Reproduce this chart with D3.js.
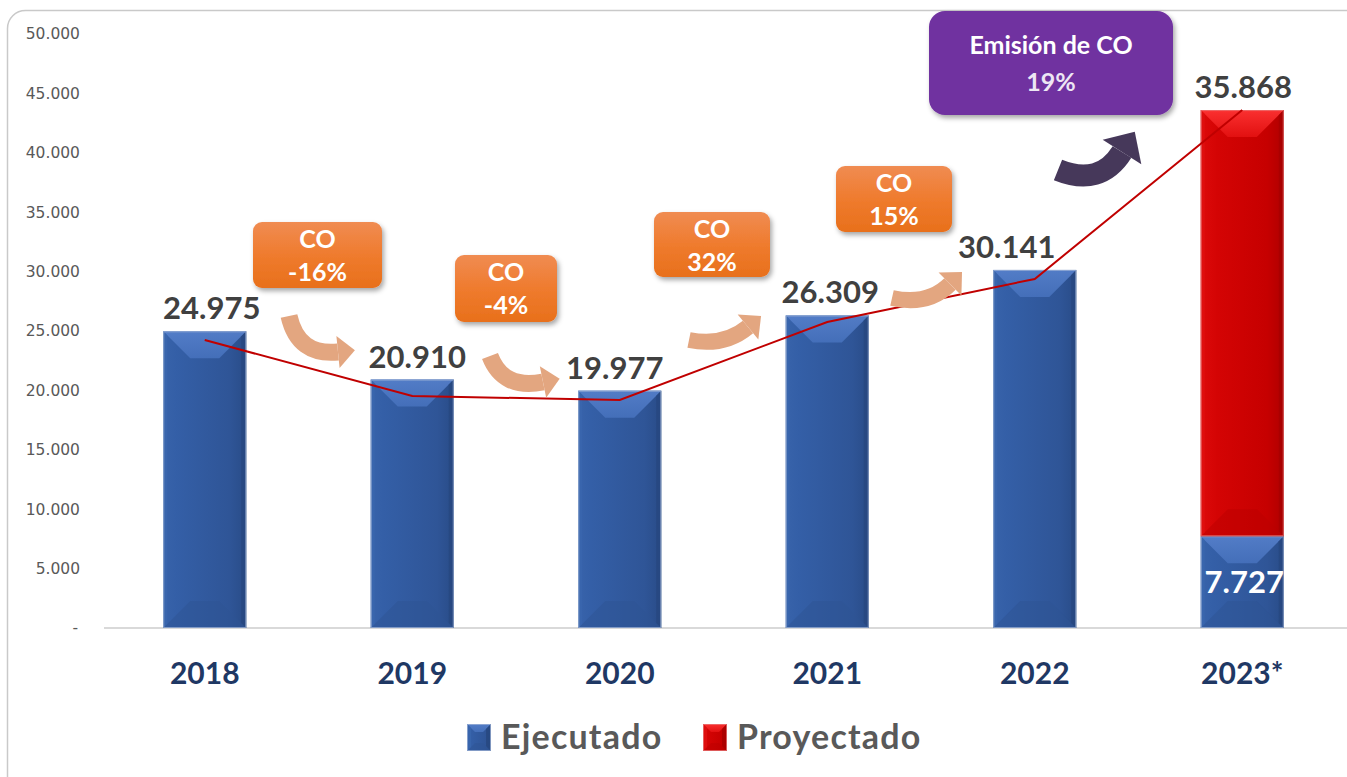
<!DOCTYPE html>
<html>
<head>
<meta charset="utf-8">
<script src="https://cdn.jsdelivr.net/npm/d3@7"></script>
<style>
  html, body { margin: 0; padding: 0; background: #fff; }
  svg { display: block; }
</style>
</head>
<body>
<div id="chart"></div>
<script>
// chart data
const years = ['2018', '2019', '2020', '2021', '2022', '2023*'];
const ejecutado = [24975, 20910, 19977, 26309, 30141, 7727];
const proyectado = [0, 0, 0, 0, 0, 35868];
const tendencia = [24240, 19530, 19190, 25760, 29380, 43600];
const yTicks = [0, 5000, 10000, 15000, 20000, 25000, 30000, 35000, 40000, 45000, 50000];
const seriesNames = ['Ejecutado', 'Proyectado'];
const callouts = [
  { title: 'CO', value: '-16%' },
  { title: 'CO', value: '-4%' },
  { title: 'CO', value: '32%' },
  { title: 'CO', value: '15%' }
];
const totalCallout = { title: 'Emisión de CO', value: '19%' };

const width = 1347;
const height = 777;
const margin = { top: 34, right: 1, bottom: 149, left: 101 };

const svg = d3.select('#chart').append('svg')
  .attr('width', width)
  .attr('height', height);

const defs = svg.append('defs');

function hGrad(id, stops) {
  const g = defs.append('linearGradient').attr('id', id)
    .attr('x1', 0).attr('x2', 1).attr('y1', 0).attr('y2', 0);
  stops.forEach(s => g.append('stop').attr('offset', s[0]).attr('stop-color', s[1]));
}
function vGrad(id, stops) {
  const g = defs.append('linearGradient').attr('id', id)
    .attr('x1', 0).attr('x2', 0).attr('y1', 0).attr('y2', 1);
  stops.forEach(s => g.append('stop').attr('offset', s[0]).attr('stop-color', s[1]));
}
hGrad('blueBody', [[0, '#3863AA'], [0.15, '#345FA7'], [0.8, '#2F5597'], [1, '#294C88']]);
hGrad('redBody', [[0, '#DD0A0A'], [0.2, '#D40404'], [0.8, '#C60000'], [1, '#B00000']]);
vGrad('orangeBox', [[0, '#F08C52'], [0.5, '#EF7B2E'], [1, '#E8701B']]);
vGrad('blueTop', [[0, '#5680CB'], [1, '#4671BC']]);
vGrad('redTop', [[0, '#FF3535'], [1, '#E41212']]);

const shadow = defs.append('filter').attr('id', 'shadow')
  .attr('x', '-10%').attr('y', '-10%').attr('width', '130%').attr('height', '140%');
shadow.append('feDropShadow').attr('dx', 2).attr('dy', 3).attr('stdDeviation', 2.5)
  .attr('flood-color', '#000').attr('flood-opacity', 0.35);

// frame
svg.append('rect')
  .attr('x', 7.5).attr('y', 10.5)
  .attr('width', 1400).attr('height', 820)
  .attr('rx', 18)
  .attr('fill', '#fff')
  .attr('stroke', '#c9c9c9')
  .attr('stroke-width', 1.5);

const x = d3.scaleBand()
  .domain(years)
  .range([margin.left, width - margin.right])
  .paddingInner(0.6)
  .paddingOuter(0.3);

const y = d3.scaleLinear()
  .domain([0, 50000])
  .range([height - margin.bottom, margin.top]);

// y axis labels
const yAxis = d3.axisLeft(y)
  .tickValues(yTicks)
  .tickSize(0)
  .tickPadding(0)
  .tickFormat(d => d === 0 ? '-' : d3.format(',')(d).replace(/,/g, '.'));

svg.append('g')
  .attr('transform', `translate(${margin.left - 21},0)`)
  .call(yAxis)
  .call(g => g.select('.domain').remove())
  .call(g => g.selectAll('text')
    .attr('font-family', '"DejaVu Sans", Verdana, sans-serif')
    .attr('font-size', 15.5)
    .attr('fill', '#595959')
    .attr('dx', d => d === 0 ? -2 : 0));

// baseline
svg.append('line')
  .attr('x1', margin.left + 3).attr('x2', width)
  .attr('y1', y(0)).attr('y2', y(0))
  .attr('stroke', '#d9d9d9')
  .attr('stroke-width', 2);

// stacked bars
const table = years.map((yr, i) => ({ year: yr, Ejecutado: ejecutado[i], Proyectado: proyectado[i] }));
const stacked = d3.stack().keys(seriesNames)(table);

const palette = {
  Ejecutado: { body: 'url(#blueBody)', top: 'url(#blueTop)', bottom: '#2D5394', left: '#3A66AE', right: '#27477F', edge: '#A5B8D9' },
  Proyectado: { body: 'url(#redBody)', top: 'url(#redTop)', bottom: '#BC0000', left: '#E01010', right: '#A80000', edge: '#E88080' }
};

function bevelBar(g, x0, y0, w, h, c) {
  const b = Math.min(27, w / 3, h / 2.2);
  const x1 = x0 + w, y1 = y0 + h;
  g.append('rect').attr('x', x0).attr('y', y0).attr('width', w).attr('height', h)
    .attr('fill', c.body);
  g.append('polygon')
    .attr('points', [[x0, y0], [x1, y0], [x1 - b, y0 + b], [x0 + b, y0 + b]].join(' '))
    .attr('fill', c.top).attr('opacity', 0.9);
  g.append('polygon')
    .attr('points', [[x0, y1], [x1, y1], [x1 - b, y1 - b], [x0 + b, y1 - b]].join(' '))
    .attr('fill', c.bottom).attr('opacity', 0.5);
  g.append('polygon')
    .attr('points', [[x0, y0], [x0 + 4, y0 + 4], [x0 + 4, y1 - 4], [x0, y1]].join(' '))
    .attr('fill', c.left).attr('opacity', 0.8);
  g.append('polygon')
    .attr('points', [[x1, y0], [x1 - 5, y0 + 5], [x1 - 5, y1 - 5], [x1, y1]].join(' '))
    .attr('fill', c.right).attr('opacity', 0.8);
  g.append('rect').attr('x', x0 + 0.5).attr('y', y0 + 0.5).attr('width', w - 1).attr('height', h - 1)
    .attr('fill', 'none').attr('stroke', c.edge).attr('stroke-width', 1).attr('opacity', 0.7);
}

stacked.forEach(layer => {
  const gl = svg.append('g').attr('class', 'series-' + layer.key);
  layer.forEach(d => {
    const h = y(d[0]) - y(d[1]);
    if (h <= 0) return;
    bevelBar(gl.append('g'), x(d.data.year), y(d[1]), x.bandwidth(), h, palette[layer.key]);
  });
});

// trend line
const line = d3.line()
  .x((d, i) => x(years[i]) + x.bandwidth() / 2)
  .y(d => y(d));

svg.append('path')
  .datum(tendencia)
  .attr('d', line)
  .attr('fill', 'none')
  .attr('stroke', '#C00000')
  .attr('stroke-width', 2);

// curved arrows
function curvedArrow(p0, c, p1, thick, head, color) {
  const g = svg.append('g');
  g.append('path')
    .attr('d', `M${p0[0]},${p0[1]} Q${c[0]},${c[1]} ${p1[0]},${p1[1]}`)
    .attr('fill', 'none')
    .attr('stroke', color)
    .attr('stroke-width', thick);
  const ang = Math.atan2(p1[1] - c[1], p1[0] - c[0]);
  const ux = Math.cos(ang), uy = Math.sin(ang);
  const nx = -uy, ny = ux;
  const tip = [p1[0] + ux * head, p1[1] + uy * head];
  const a = [p1[0] + nx * head * 0.95, p1[1] + ny * head * 0.95];
  const b = [p1[0] - nx * head * 0.95, p1[1] - ny * head * 0.95];
  g.append('polygon').attr('points', [tip, a, b].join(' ')).attr('fill', color);
}
const tan = '#E3A680';
curvedArrow([289, 316], [298, 356], [338, 352], 17, 17, tan);
curvedArrow([490, 356], [503, 390], [543, 382], 17, 17, tan);
curvedArrow([689, 340], [724, 347], [748, 327], 16, 17, tan);
curvedArrow([892, 298], [928, 306], [950, 284], 16, 17, tan);
curvedArrow([1058, 170], [1100, 187], [1122, 152], 22, 24, '#46385A');

// value labels
const labelFont = 'Lato, "Open Sans", sans-serif';
const labelDx = [7, 5, -5, 3, -28, 1];
const totals = years.map((yr, i) => ejecutado[i] + proyectado[i]);
const fmt = v => d3.format(',')(v).replace(/,/g, '.');

svg.append('g').selectAll('text')
  .data(years)
  .join('text')
  .attr('x', (d, i) => x(d) + x.bandwidth() / 2 + labelDx[i])
  .attr('y', (d, i) => y(totals[i]) - 12)
  .attr('text-anchor', 'middle')
  .attr('font-family', labelFont)
  .attr('font-weight', 700)
  .attr('font-size', 31)
  .attr('fill', '#404040')
  .text((d, i) => fmt(proyectado[i] > 0 ? proyectado[i] : ejecutado[i]));

// inner label for the executed part of 2023
svg.append('text')
  .attr('x', x(years[5]) + x.bandwidth() / 2 + 2)
  .attr('y', y(ejecutado[5] / 2) + 11)
  .attr('text-anchor', 'middle')
  .attr('font-family', labelFont)
  .attr('font-weight', 700)
  .attr('font-size', 31)
  .attr('fill', '#fff')
  .text(fmt(ejecutado[5]));

// x axis labels
const xAxis = d3.axisBottom(x).tickSize(0).tickPadding(0);
svg.append('g')
  .attr('transform', `translate(0,${y(0) + 56})`)
  .call(xAxis)
  .call(g => g.select('.domain').remove())
  .call(g => g.selectAll('text')
    .attr('dy', 0)
    .attr('font-family', labelFont)
    .attr('font-weight', 700)
    .attr('font-size', 30)
    .attr('fill', '#1F3864'));

// callout boxes
const boxes = [
  { x: 253, y: 222, w: 129, h: 66 },
  { x: 455, y: 255, w: 102, h: 67 },
  { x: 654, y: 212, w: 116, h: 65 },
  { x: 836, y: 166, w: 116, h: 66 }
];
callouts.forEach((c, i) => {
  const b = boxes[i];
  const g = svg.append('g');
  g.append('rect')
    .attr('x', b.x).attr('y', b.y).attr('width', b.w).attr('height', b.h)
    .attr('rx', 9)
    .attr('fill', 'url(#orangeBox)')
    .attr('filter', 'url(#shadow)');
  g.append('text')
    .attr('x', b.x + b.w / 2).attr('y', b.y + 26)
    .attr('text-anchor', 'middle')
    .attr('font-family', labelFont).attr('font-weight', 700).attr('font-size', 25)
    .attr('fill', '#fff')
    .text(c.title);
  g.append('text')
    .attr('x', b.x + b.w / 2).attr('y', b.y + 59)
    .attr('text-anchor', 'middle')
    .attr('font-family', labelFont).attr('font-weight', 700).attr('font-size', 25)
    .attr('fill', '#fff')
    .text(c.value);
});

const pb = { x: 929, y: 11, w: 244, h: 104 };
svg.append('rect')
  .attr('x', pb.x).attr('y', pb.y).attr('width', pb.w).attr('height', pb.h)
  .attr('rx', 16)
  .attr('fill', '#7030A0')
  .attr('filter', 'url(#shadow)');
svg.append('text')
  .attr('x', pb.x + pb.w / 2).attr('y', pb.y + 43)
  .attr('text-anchor', 'middle')
  .attr('font-family', labelFont).attr('font-weight', 700).attr('font-size', 25)
  .attr('fill', '#fff')
  .text(totalCallout.title);
svg.append('text')
  .attr('x', pb.x + pb.w / 2).attr('y', pb.y + 80)
  .attr('text-anchor', 'middle')
  .attr('font-family', labelFont).attr('font-weight', 700).attr('font-size', 25)
  .attr('fill', '#EDE6F4')
  .text(totalCallout.value);

// legend
const legend = svg.append('g').attr('transform', 'translate(467,724)');
const legendX = [0, 236];
seriesNames.forEach((name, i) => {
  const g = legend.append('g').attr('transform', `translate(${legendX[i]},0)`);
  bevelBar(g, 0, 0, 24, 27, palette[name]);
  g.append('text')
    .attr('x', 34).attr('y', 25)
    .attr('font-family', labelFont).attr('font-weight', 700).attr('font-size', 34)
    .attr('letter-spacing', 1.2)
    .attr('fill', '#595959')
    .text(name);
});
</script>
</body>
</html>
